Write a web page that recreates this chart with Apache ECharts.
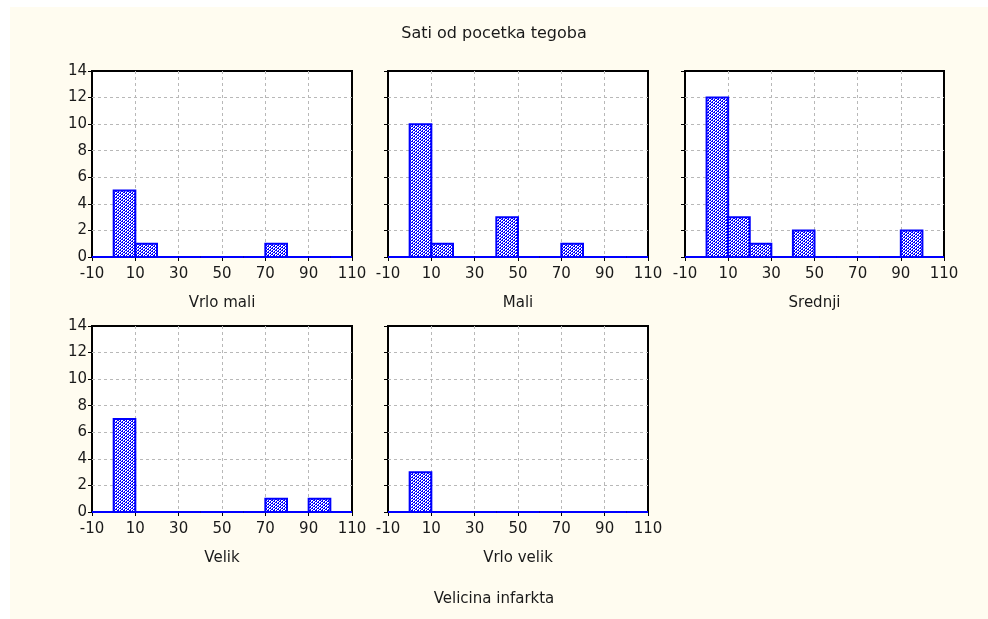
<!DOCTYPE html>
<html>
<head>
<meta charset="utf-8">
<script src="https://cdn.jsdelivr.net/npm/echarts@6/dist/echarts.min.js"></script>
<style>
html,body{margin:0;padding:0;background:#ffffff;}
#chart{width:988px;height:619px;}
</style>
</head>
<body>
<div id="chart"></div>
<script>
// ---- data ----
const binStarts = [-10, 0, 10, 20, 30, 40, 50, 60, 70, 80, 90, 100];
const binWidth = 10;
const panelNames = ['Vrlo mali', 'Mali', 'Srednji', 'Velik', 'Vrlo velik'];
const vrloMali  = [0, 5, 1, 0, 0, 0, 0, 0, 1, 0, 0, 0];
const mali      = [0, 10, 1, 0, 0, 3, 0, 0, 1, 0, 0, 0];
const srednji   = [0, 12, 3, 1, 0, 2, 0, 0, 0, 0, 2, 0];
const velik     = [0, 7, 0, 0, 0, 0, 0, 0, 1, 0, 1, 0];
const vrloVelik = [0, 3, 0, 0, 0, 0, 0, 0, 0, 0, 0, 0];
const xTicks = [-10, 10, 30, 50, 70, 90, 110];
const chartTitle = 'Sati od pocetka tegoba';
const bottomTitle = 'Velicina infarkta';

const panels = [vrloMali, mali, srednji, velik, vrloVelik];

// ---- hatch pattern ----
const pc = document.createElement('canvas');
pc.width = 6; pc.height = 6;
const pctx = pc.getContext('2d');
pctx.fillStyle = '#ffffff';
pctx.fillRect(0, 0, 6, 6);
pctx.fillStyle = '#0000ff';
for (let y = 0; y < 6; y++) {
  for (let x = 0; x < 6; x++) {
    const d = (x + y) % 3;
    if (d === 0 || (d === 1 && x % 2 === 0)) pctx.fillRect(x, y, 1, 1);
  }
}
const hatch = { image: pc, repeat: 'repeat' };

const font = 'DejaVu Sans';
const txt = '#1a1a1a';
const gridLine = { color: '#b8b8b8', type: [3, 3], width: 1 };

const layout = [
  { left: 92, top: 71, width: 260, height: 186 },
  { left: 388, top: 71, width: 260, height: 186 },
  { left: 685, top: 71, width: 259, height: 186 },
  { left: 92, top: 326, width: 260, height: 186 },
  { left: 388, top: 326, width: 260, height: 186 }
];

const grids = [], xAxes = [], yAxes = [], series = [];
panels.forEach((vals, i) => {
  grids.push(Object.assign({
    show: true, backgroundColor: '#ffffff', borderColor: '#000000', borderWidth: 2
  }, layout[i]));
  xAxes.push({
    type: 'value', gridIndex: i, min: -10, max: 110,
    name: panelNames[i], nameLocation: 'middle', nameGap: 39,
    nameTextStyle: { fontFamily: font, fontSize: 15, color: txt },
    axisLine: { show: false, onZero: false },
    axisTick: { show: true, length: 4, customValues: xTicks, lineStyle: { color: '#000' } },
    axisLabel: { customValues: xTicks, fontFamily: font, fontSize: 15, color: txt, margin: 10 },
    splitLine: { show: true, showMinLine: false, showMaxLine: false, lineStyle: gridLine }
  });
  yAxes.push({
    type: 'value', gridIndex: i, min: 0, max: 14, interval: 2,
    axisLine: { show: false, onZero: false },
    axisTick: { show: true, length: 4, lineStyle: { color: '#000' } },
    axisLabel: { show: (i === 0 || i === 3), fontFamily: font, fontSize: 15, color: txt, margin: 5 },
    splitLine: { show: true, showMinLine: false, showMaxLine: false, lineStyle: gridLine }
  });
  series.push({
    type: 'custom', xAxisIndex: i, yAxisIndex: i,
    data: binStarts.map((b, k) => [b, vals[k]]),
    encode: { x: 0, y: 1 },
    clip: false,
    renderItem: function (params, api) {
      const x0 = api.value(0), v = api.value(1);
      const pTop = api.coord([x0, v]);
      const pBot = api.coord([x0 + binWidth, 0]);
      return {
        type: 'rect',
        shape: { x: pTop[0], y: pTop[1], width: pBot[0] - pTop[0], height: pBot[1] - pTop[1] },
        style: { fill: v > 0 ? hatch : 'none', stroke: '#0000ff', lineWidth: 2 }
      };
    }
  });
});

const chart = echarts.init(document.getElementById('chart'));
chart.setOption({
  animation: false,
  backgroundColor: '#ffffff',
  graphic: [
    { type: 'rect', z: -10, left: 10, top: 7, shape: { width: 978, height: 612 }, style: { fill: '#fffcf0' }, silent: true }
  ],
  title: [
    { text: chartTitle, left: 'center', top: 21, textStyle: { fontFamily: font, fontSize: 16, fontWeight: 'normal', color: txt } },
    { text: bottomTitle, left: 'center', top: 587, textStyle: { fontFamily: font, fontSize: 15, fontWeight: 'normal', color: txt } }
  ],
  grid: grids,
  xAxis: xAxes,
  yAxis: yAxes,
  series: series
});
</script>
</body>
</html>
